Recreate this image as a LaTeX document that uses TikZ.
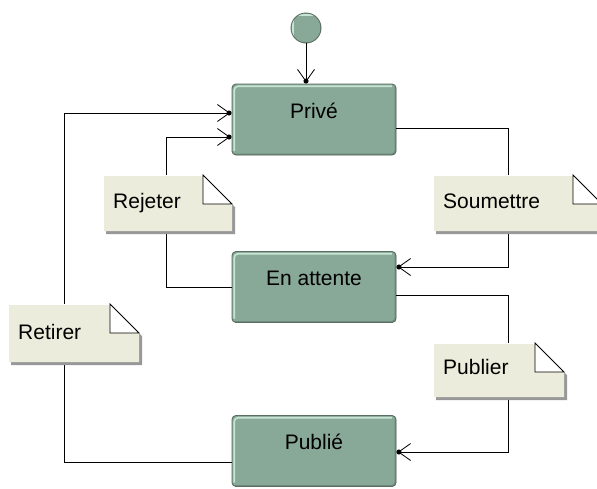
\documentclass[tikz,border=0pt]{standalone}
\usepackage{fontspec}
\setmainfont{Liberation Sans}
\usetikzlibrary{arrows.meta}
\definecolor{stfill}{HTML}{88A898}
\definecolor{stdark}{HTML}{5A6E62}
\definecolor{stshade}{HTML}{6E8A7C}
\definecolor{stlight}{HTML}{C8E4D4}
\definecolor{notefill}{HTML}{ECECDC}
\definecolor{noteshadow}{HTML}{989898}
\newcommand\drawnote[6]{%
  \fill[noteshadow,shift={(3,3)}] (#2,#3) -- ({#4-29},#3) -- (#4,{#3+29}) -- (#4,#5) -- (#2,#5) -- cycle;
  \fill[notefill] (#2,#3) -- ({#4-29},#3) -- (#4,{#3+29}) -- (#4,#5) -- (#2,#5) -- cycle;
  \draw[white,line width=1pt] (#2,#5) -- (#2,#3) -- ({#4-29},#3);
  \fill[white] ({#4-29},#3) -- (#4,{#3+29}) -- ({#4-29},{#3+29}) -- cycle;
  \draw[black,line width=0.9pt] ({#4-29},#3) -- ({#4-29},{#3+29}) -- (#4,{#3+29}) -- cycle;
  \node[notetext,anchor=base west] (#1) at ({#2+10},{#5-23}) {#6};
}
\begin{document}
\begin{tikzpicture}[x=1pt,y=-1pt,
  bevel/.style={path picture={
    \draw[stshade,line width=3pt] ([shift={(3pt,0pt)}]path picture bounding box.south west) -- (path picture bounding box.south east) -- ([shift={(0pt,-3pt)}]path picture bounding box.north east);
    \draw[stlight,line width=1.6pt] ([shift={(2.2pt,4pt)}]path picture bounding box.south west) -- ([shift={(2.2pt,-2.2pt)}]path picture bounding box.north west) -- ([shift={(-4pt,-2.2pt)}]path picture bounding box.north east);}},
  statebox/.style={draw=stdark,fill=stfill,line width=0.9pt,rounded corners=4pt,bevel,
    minimum width=164pt,inner xsep=0pt,inner ysep=0pt,text height=34pt,text depth=37pt,
    font=\fontsize{21}{25}\selectfont},
  initnode/.style={circle,draw=stdark,fill=stfill,line width=0.9pt,minimum size=30pt,inner sep=0pt,bevel},
  notetext/.style={inner sep=0pt,font=\fontsize{21}{25}\selectfont},
  conn/.style={line width=0.9pt,-{Straight Barb[length=12pt,width=17pt,line width=0.8pt,sep=-3.5pt]Circle[length=5pt]}}]
\useasboundingbox (0,0) rectangle (597,488);
\fill[white] (0,0) rectangle (597,488);

\node[initnode] (init) at (306,28) {};
\node[statebox] (prive) at (314,119.5) {Privé};
\node[statebox] (attente) at (314,287) {En attente};
\node[statebox] (publie) at (314,451) {Publié};

\draw[conn] (init) -- (init |- prive.north);
% Retirer
\draw[conn] ([yshift=-11pt]publie.west) -- ++(-167,0) |- ([yshift=6.5pt]prive.west);
% Rejeter
\draw[conn] (attente.west) -- ++(-65,0) |- ([yshift=-17.5pt]prive.west);
% Soumettre
\draw[conn] ([yshift=-8.5pt]prive.east) -- ++(112,0) |- ([yshift=20pt]attente.east);
% Publier
\draw[conn] ([yshift=-8pt]attente.east) -- ++(112,0) |- ([yshift=-1pt]publie.east);

\drawnote{rejeter}{103}{175}{232}{231}{Rejeter}
\drawnote{soumettre}{433}{175}{602}{231}{Soumettre}
\drawnote{retirer}{8}{304}{139}{362}{Retirer}
\drawnote{publier}{433}{343}{564}{397}{Publier}
\end{tikzpicture}
\end{document}
